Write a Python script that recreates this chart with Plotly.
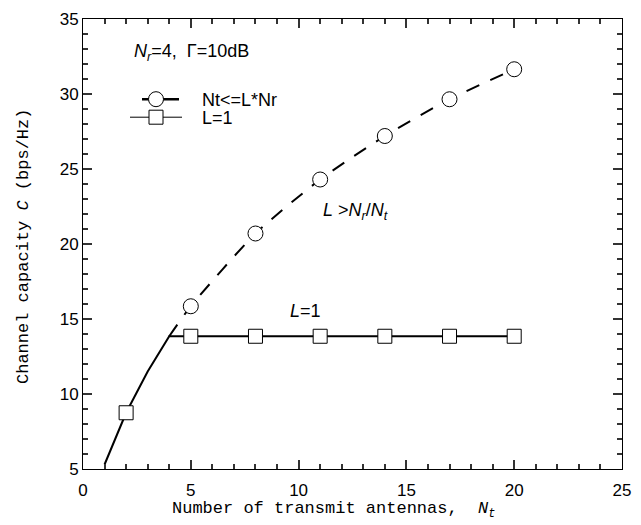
import plotly.graph_objects as go

# ---- data ----
nt_l1_line = [1, 2, 3, 4, 5, 8, 11, 14, 17, 20]
cap_l1_line = [5.3, 8.75, 11.5, 13.85, 13.85, 13.85, 13.85, 13.85, 13.85, 13.85]
nt_l1_mark = [2, 5, 8, 11, 14, 17, 20]
cap_l1_mark = [8.75, 13.85, 13.85, 13.85, 13.85, 13.85, 13.85]
nt_opt_line = [4, 5, 8, 11, 14, 17, 20]
cap_opt_line = [13.85, 15.85, 20.7, 24.3, 27.2, 29.65, 31.65]
nt_opt_mark = [5, 8, 11, 14, 17, 20]
cap_opt_mark = [15.85, 20.7, 24.3, 27.2, 29.65, 31.65]
legend_names = ["Nt<=L*Nr", "L=1"]

TICKFONT = dict(family="Liberation Sans Narrow, Liberation Sans, Arial", size=17, color="black")
MONO = "Liberation Mono, DejaVu Sans Mono, monospace"
SANS = "Liberation Sans, Arial"
NB = "\u00a0" * 3

W, H = 641, 525
L, R, T, B = 83, 19, 19, 56
pw, ph = W - L - R, H - T - B


def px_x(px):
    return (px - L) / pw


def px_y(py):
    return (H - B - py) / ph


fig = go.Figure()

# L=1 curve (solid)
fig.add_trace(go.Scatter(x=nt_l1_line, y=cap_l1_line, mode="lines",
                         line=dict(color="black", width=2), showlegend=False, hoverinfo="skip"))
fig.add_trace(go.Scatter(x=nt_l1_mark, y=cap_l1_mark, mode="markers",
                         marker=dict(symbol="square", size=14, color="white",
                                     line=dict(color="black", width=1)),
                         showlegend=False))
# optimal curve (dashed)
fig.add_trace(go.Scatter(x=nt_opt_line, y=cap_opt_line, mode="lines",
                         line=dict(color="black", width=2, dash="14px,12px", shape="spline", smoothing=0.6),
                         showlegend=False, hoverinfo="skip"))
fig.add_trace(go.Scatter(x=nt_opt_mark, y=cap_opt_mark, mode="markers",
                         marker=dict(symbol="circle", size=15, color="white",
                                     line=dict(color="black", width=1)),
                         showlegend=False))

# legend entries (each in its own legend box for exact placement)
fig.add_trace(go.Scatter(x=[None], y=[None], mode="lines+markers", name=NB + legend_names[0],
                         line=dict(color="black", width=2.5, dash="0px,12px,37px,200px"),
                         marker=dict(symbol="circle", size=15, color="white",
                                     line=dict(color="black", width=1)),
                         legend="legend"))
fig.add_trace(go.Scatter(x=[None], y=[None], mode="lines+markers", name=NB + legend_names[1],
                         line=dict(color="black", width=1),
                         marker=dict(symbol="square", size=14, color="white",
                                     line=dict(color="black", width=1)),
                         legend="legend2"))

axis_common = dict(
    showline=True, linecolor="black", linewidth=1,
    mirror="allticks", ticks="inside", ticklen=9, tickwidth=2, tickcolor="#333",
    tickfont=TICKFONT, automargin=False, dtick=5,
    minor=dict(ticks="inside", ticklen=5, tickwidth=2, tickcolor="#333", dtick=1),
)

fig.update_xaxes(range=[0, 25], tick0=0, ticklabelstandoff=6, **axis_common)
fig.update_yaxes(range=[5, 35], tick0=5, **axis_common)

annotations = [
    dict(text="Number of transmit antennas,  <i>N</i><sub><i>t</i></sub>", x=333, y=510,
         font=dict(family=MONO, size=17, color="black")),
    dict(text="Channel capacity <i>C</i> (bps/Hz)", x=24, y=247, textangle=-90,
         font=dict(family=MONO, size=17, color="black")),
    dict(text="<i>N</i><sub><i>r</i></sub>=4,  Γ=10dB", x=191, y=52,
         font=dict(family=SANS, size=18, color="black")),
    dict(text="<i>L</i> ><i>N</i><sub><i>r</i></sub>/<i>N</i><sub><i>t</i></sub>", x=355, y=211,
         font=dict(family=SANS, size=18, color="black")),
    dict(text="<i>L</i>=1", x=305, y=311,
         font=dict(family=SANS, size=18, color="black")),
]
anns = []
for a in annotations:
    px, py = a.pop("x"), a.pop("y")
    anns.append(dict(xref="paper", yref="paper", x=px_x(px), y=px_y(py),
                     xanchor="center", yanchor="middle", showarrow=False, **a))

leg_common = dict(xanchor="left", yanchor="middle", bgcolor="rgba(0,0,0,0)",
                  font=dict(family=SANS, size=18, color="black"), itemwidth=52,
                  borderwidth=0)

fig.update_layout(
    width=W, height=H, autosize=False,
    margin=dict(l=L, r=R, t=T, b=B),
    paper_bgcolor="white", plot_bgcolor="white",
    annotations=anns,
    legend=dict(x=px_x(125), y=px_y(99.5), **leg_common),
    legend2=dict(x=px_x(125), y=px_y(117.5), **leg_common),
)

fig.write_html("out.html", post_script="document.body.style.margin='0';",
               config={"displayModeBar": False})
